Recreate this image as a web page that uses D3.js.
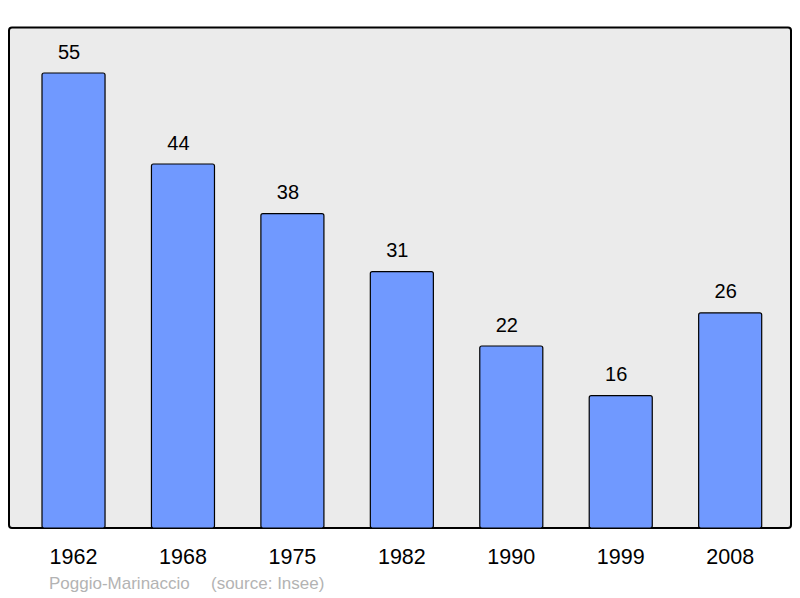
<!DOCTYPE html>
<html><head><meta charset="utf-8">
<script src="https://cdn.jsdelivr.net/npm/d3@7"></script>
<style>body{margin:0;background:#fff}svg{display:block}</style>
</head><body>
<script>
const years = ["1962","1968","1975","1982","1990","1999","2008"];
const population = [55,44,38,31,22,16,26];
const title = "Poggio-Marinaccio";
const source = "(source: Insee)";

const W = 800, H = 598;
const svg = d3.select("body").append("svg").attr("width", W).attr("height", H);
const FONT = "Liberation Sans, Arial, sans-serif";

svg.append("rect").attr("x", 9).attr("y", 27.5).attr("width", 782).attr("height", 500.5)
  .attr("rx", 3).attr("fill", "#ebebeb").attr("stroke", "#000").attr("stroke-width", 2);

const x = d3.scaleBand().domain(years).range([10.7, 793]).paddingInner(0.424).paddingOuter(0.286);
const y = d3.scaleLinear().domain([0, 55]).range([528, 73]);

const data = years.map((yr, i) => ({yr, v: population[i]}));

svg.selectAll("rect.bar").data(data).enter().append("rect").attr("class", "bar")
  .attr("x", d => x(d.yr)).attr("y", d => y(d.v))
  .attr("width", x.bandwidth()).attr("height", d => y(0) - y(d.v))
  .attr("rx", 2).attr("fill", "#7099ff").attr("stroke", "#000").attr("stroke-width", 1.2);

svg.selectAll("text.val").data(data).enter().append("text").attr("class", "val")
  .attr("x", d => x(d.yr) + x.bandwidth()/2 - 4.5).attr("y", d => y(d.v) - 14.5)
  .attr("text-anchor", "middle").attr("font-family", FONT)
  .attr("font-size", 20).attr("fill", "#000").text(d => d.v);

const xAxis = svg.append("g").attr("transform", "translate(0,528)")
  .call(d3.axisBottom(x).tickSize(0).tickPadding(0));
xAxis.select(".domain").remove();
xAxis.selectAll("text").attr("font-family", FONT).attr("dy", null).attr("y", 36)
  .attr("font-size", 21.5).attr("fill", "#000");

svg.append("text").attr("x", 49).attr("y", 589).attr("font-family", FONT)
  .attr("font-size", 17).attr("fill", "#b3b3b3").text(title);
svg.append("text").attr("x", 211).attr("y", 589).attr("font-family", FONT)
  .attr("font-size", 17).attr("fill", "#b3b3b3").text(source);
</script>
</body></html>
